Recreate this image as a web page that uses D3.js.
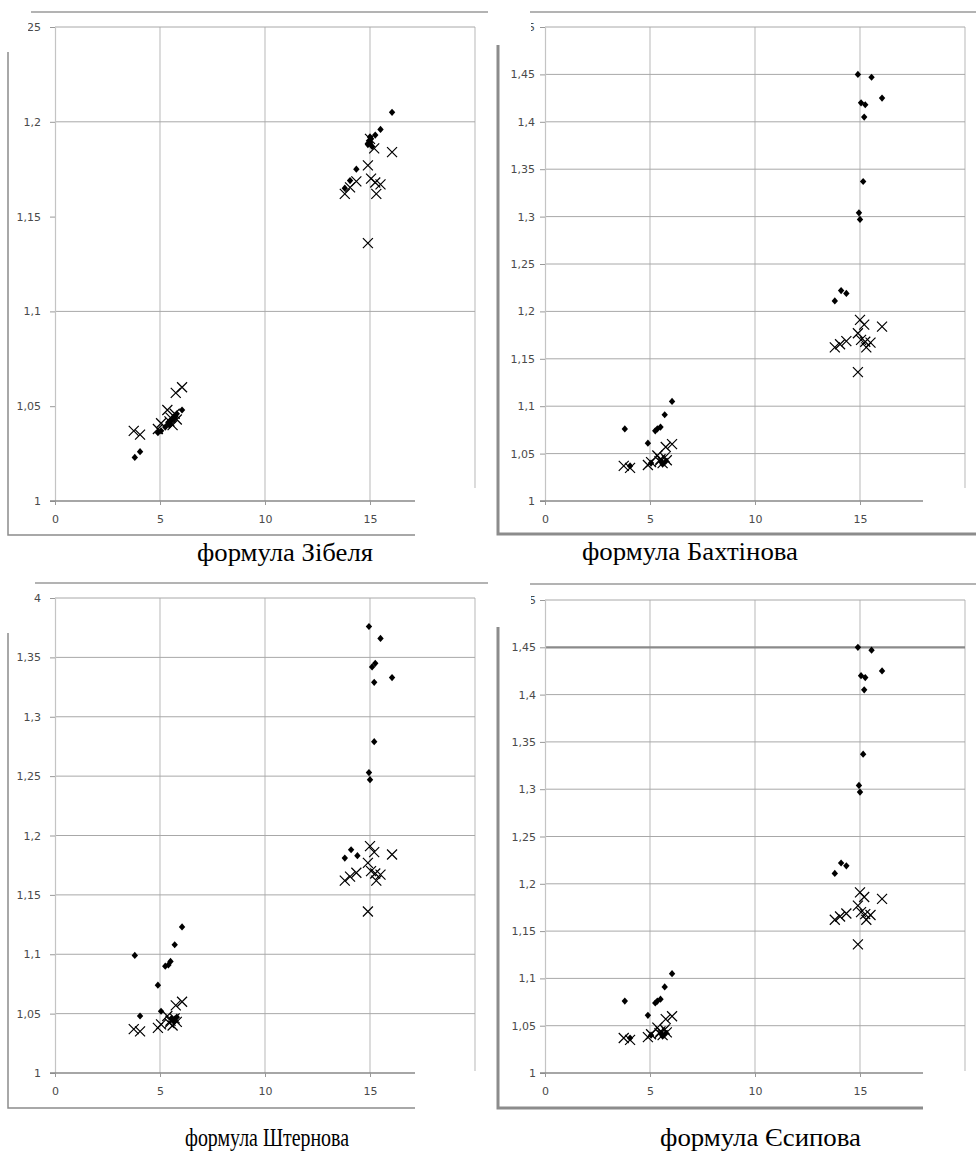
<!DOCTYPE html>
<html>
<head>
<meta charset="utf-8">
<script src="https://cdn.jsdelivr.net/npm/d3@7"></script>
<style>
  body { margin: 0; background: #fff; }
  svg { display: block; }
</style>
</head>
<body>
<script>
// values
const xTicks = [0, 5, 10, 15];
const captions = ["формула Зібеля", "формула Бахтінова", "формула Штернова", "формула Єсипова"];

const yTicksZibel = [1, 1.05, 1.1, 1.15, 1.2, 1.25];
const yTicksBakhtinov = [1, 1.05, 1.1, 1.15, 1.2, 1.25, 1.3, 1.35, 1.4, 1.45, 1.5];
const yTicksShternov = [1, 1.05, 1.1, 1.15, 1.2, 1.25, 1.3, 1.35, 1.4];
const yTicksEsipov = [1, 1.05, 1.1, 1.15, 1.2, 1.25, 1.3, 1.35, 1.4, 1.45, 1.5];

const gridZibel = [1.1, 1.2];
const gridBakhtinov = [1.05, 1.1, 1.15, 1.2, 1.25, 1.3, 1.35, 1.4, 1.45];
const gridShternov = [1.05, 1.1, 1.15, 1.2, 1.25, 1.3, 1.35];
const gridEsipov = [1.05, 1.1, 1.15, 1.2, 1.25, 1.3, 1.35, 1.4, 1.45];

// crosses, same in every panel
const measured = [
  [15.0, 1.191], [15.2, 1.186], [16.05, 1.184], [14.9, 1.177], [15.05, 1.170], [15.25, 1.168],
  [15.5, 1.167], [15.3, 1.162], [14.35, 1.1686], [14.05, 1.1654], [13.8, 1.162], [14.9, 1.136],
  [3.75, 1.037], [4.05, 1.035], [4.9, 1.038], [5.05, 1.041], [5.35, 1.048], [5.5, 1.044],
  [5.6, 1.040], [5.8, 1.043], [5.7, 1.046], [5.75, 1.057], [6.05, 1.060], [5.45, 1.042]
];

// diamonds, one set per formula
const zibel = [
  [13.8, 1.165], [14.05, 1.169], [14.35, 1.175], [14.9, 1.188], [14.95, 1.190], [15.0, 1.189],
  [15.05, 1.191], [15.1, 1.187], [15.25, 1.193], [15.5, 1.196], [16.05, 1.205], [15.0, 1.192],
  [3.8, 1.023], [4.05, 1.026], [4.9, 1.036], [5.05, 1.037], [5.25, 1.039], [5.4, 1.041],
  [5.5, 1.042], [5.6, 1.043], [5.7, 1.044], [5.8, 1.046], [6.05, 1.048], [5.45, 1.040]
];
const bakhtinov = [
  [14.9, 1.450], [15.55, 1.447], [16.05, 1.425], [15.05, 1.420], [15.25, 1.418], [15.2, 1.405],
  [15.15, 1.337], [14.95, 1.304], [15.0, 1.297], [14.1, 1.222], [14.35, 1.219], [13.8, 1.211],
  [3.8, 1.076], [4.05, 1.037], [4.9, 1.061], [5.05, 1.040], [5.25, 1.074], [5.35, 1.076],
  [5.5, 1.078], [5.55, 1.041], [5.7, 1.091], [5.75, 1.042], [6.05, 1.105], [5.6, 1.039]
];
const shternov = [
  [14.95, 1.376], [15.5, 1.366], [15.1, 1.342], [15.25, 1.345], [16.05, 1.333], [15.2, 1.329],
  [15.2, 1.279], [14.95, 1.253], [15.0, 1.247], [14.1, 1.188], [14.4, 1.183], [13.8, 1.181],
  [3.8, 1.099], [4.05, 1.048], [4.9, 1.074], [5.05, 1.052], [5.25, 1.090], [5.4, 1.091],
  [5.5, 1.094], [5.7, 1.108], [6.05, 1.123], [5.55, 1.046], [5.65, 1.044], [5.8, 1.047]
];
const esipov = [
  [14.9, 1.450], [15.55, 1.447], [16.05, 1.425], [15.05, 1.420], [15.25, 1.418], [15.2, 1.405],
  [15.15, 1.337], [14.95, 1.304], [15.0, 1.297], [14.1, 1.222], [14.35, 1.219], [13.8, 1.211],
  [3.8, 1.076], [4.05, 1.037], [4.9, 1.061], [5.05, 1.040], [5.25, 1.074], [5.35, 1.076],
  [5.5, 1.078], [5.55, 1.041], [5.7, 1.091], [5.75, 1.042], [6.05, 1.105], [5.6, 1.039]
];

// layout of the four pasted pictures
const panels = [
  { ticks: yTicksZibel, grid: gridZibel, pts: zibel, caption: captions[0],
    left: 55, right: 475, top: 27, bottom: 501, ypad: 9, axisEnd: 415,
    topLine: [31, 488, 12], frame: { x: 8, y0: 52, y1: 535, x1: 415, w: 1.5 },
    cap: [197, 561, 176], covers: [[415, 488, 75, 60], [0, 16, 28, 24]] },
  { ticks: yTicksBakhtinov, grid: gridBakhtinov, pts: bakhtinov, caption: captions[1],
    left: 545, right: 965, top: 27, bottom: 501, ypad: 5, axisEnd: 923,
    topLine: [530, 976, 12], frame: { x: 498, y0: 45, y1: 534, x1: 976, w: 3 },
    cap: [582, 560, 216], covers: [[923, 488, 53, 44], [490, 16, 41, 24]] },
  { ticks: yTicksShternov, grid: gridShternov, pts: shternov, caption: captions[2],
    left: 55, right: 475, top: 598, bottom: 1073, ypad: 9, axisEnd: 415,
    topLine: [35, 488, 583], frame: { x: 8, y0: 633, y1: 1108, x1: 415, w: 1.5 },
    cap: [185, 1146, 164], covers: [[415, 1071, 75, 45], [0, 588, 34, 22]] },
  { ticks: yTicksEsipov, grid: gridEsipov, pts: esipov, caption: captions[3], heavy: 1.45,
    left: 545, right: 965, top: 600, bottom: 1073, ypad: 4, axisEnd: 923,
    topLine: [530, 976, 584], frame: { x: 498, y0: 627, y1: 1108, x1: 923, w: 3 },
    cap: [660, 1146, 201], covers: [[923, 1071, 53, 45], [490, 589, 41, 22]] }
];

const svg = d3.select("body").append("svg")
  .attr("width", 976)
  .attr("height", 1153);

const fmt = v => d3.format(".2~f")(v).replace(".", ",");
const diamond = "M0,-3.6L3.2,0L0,3.6L-3.2,0Z";
const cross = "M-5,-5L5,5M5,-5L-5,5";

panels.forEach(p => {
  const g = svg.append("g");
  const x = d3.scaleLinear().domain([0, 20]).range([p.left, p.right]);
  const y = d3.scaleLinear().domain([1, d3.max(p.ticks)]).range([p.bottom, p.top]);

  // top line of the pasted picture
  g.append("line")
    .attr("x1", p.topLine[0]).attr("x2", p.topLine[1])
    .attr("y1", p.topLine[2]).attr("y2", p.topLine[2])
    .attr("stroke", "#9a9a9a").attr("stroke-width", 1.3);

  // vertical gridlines
  g.selectAll(".vg").data([5, 10, 15, 20]).join("line")
    .attr("x1", d => x(d)).attr("x2", d => x(d))
    .attr("y1", y.range()[1]).attr("y2", y(1))
    .attr("stroke", "#c4c4c4").attr("stroke-width", 1.2);

  // horizontal gridlines + top border
  g.selectAll(".hg").data(p.grid.concat([d3.max(p.ticks)])).join("line")
    .attr("x1", x(0)).attr("x2", x(20))
    .attr("y1", d => y(d)).attr("y2", d => y(d))
    .attr("stroke", d => d === p.heavy ? "#8a8a8a" : "#a8a8a8")
    .attr("stroke-width", d => d === p.heavy ? 2.2 : 1);

  // y axis
  const ya = g.append("g")
    .attr("transform", `translate(${p.left},0)`)
    .call(d3.axisLeft(y).tickValues(p.ticks).tickFormat(fmt).tickSize(5).tickSizeOuter(0).tickPadding(p.ypad));
  ya.select(".domain").attr("stroke", "#c4c4c4").attr("stroke-width", 1.2);
  ya.selectAll(".tick line").attr("stroke", "#999");
  ya.selectAll("text").attr("font-family", "DejaVu Sans").attr("font-size", 11).attr("fill", "#4a4a4a");

  // x axis
  const xa = g.append("g")
    .attr("transform", `translate(0,${p.bottom})`)
    .call(d3.axisBottom(x).tickValues(xTicks).tickSize(4).tickSizeOuter(0).tickPadding(10));
  xa.select(".domain").attr("stroke", "#888").attr("stroke-width", 1.4)
    .attr("d", `M${p.left - 5},0H${p.axisEnd}`);
  xa.selectAll(".tick line").attr("stroke", "#999");
  xa.selectAll("text").attr("font-family", "DejaVu Sans").attr("font-size", 11).attr("fill", "#4a4a4a");

  // points
  g.selectAll(".dm").data(p.pts).join("path")
    .attr("d", diamond)
    .attr("transform", d => `translate(${x(d[0])},${y(d[1])})`)
    .attr("fill", "#000");

  g.selectAll(".cx").data(measured).join("path")
    .attr("d", cross)
    .attr("transform", d => `translate(${x(d[0])},${y(d[1])})`)
    .attr("fill", "none").attr("stroke", "#000").attr("stroke-width", 1.2);

  // parts hidden by the next picture
  g.selectAll(".cover").data(p.covers).join("rect")
    .attr("x", d => d[0]).attr("y", d => d[1])
    .attr("width", d => d[2]).attr("height", d => d[3])
    .attr("fill", "#fff");

  // frame of the picture
  g.append("path")
    .attr("d", `M${p.frame.x},${p.frame.y0}V${p.frame.y1}H${p.frame.x1}`)
    .attr("fill", "none").attr("stroke", "#8c8c8c").attr("stroke-width", p.frame.w);

  g.append("text")
    .attr("x", p.cap[0]).attr("y", p.cap[1])
    .attr("textLength", p.cap[2]).attr("lengthAdjust", "spacingAndGlyphs")
    .attr("font-family", "Liberation Serif").attr("font-size", 26)
    .attr("fill", "#000")
    .text(p.caption);
});
</script>
</body>
</html>
